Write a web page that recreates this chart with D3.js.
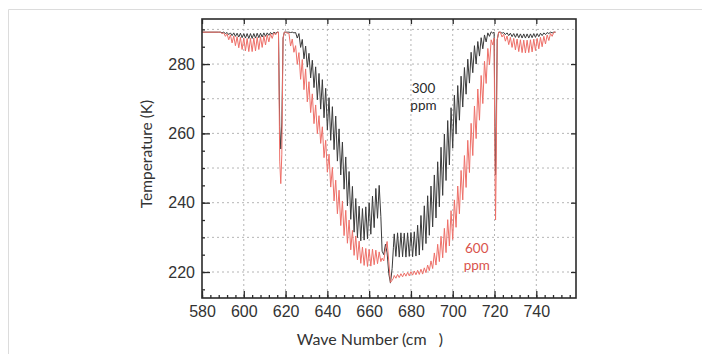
<!DOCTYPE html>
<html>
<head>
<meta charset="utf-8">
<script src="https://cdn.jsdelivr.net/npm/d3@7"></script>
<style>
  html, body { margin: 0; padding: 0; background: #fff; }
  svg { display: block; font-family: Lato, "Open Sans", sans-serif; }
</style>
</head>
<body>
<svg id="chart" width="702" height="354"></svg>
<script>
// wave number (cm-1) of every vertex, shared by both spectra
const waveNumber = [
  580.0, 588.0,
  588.8, 589.6, 590.4, 591.2, 592.0, 592.8, 593.6, 594.4, 595.2, 596.0, 596.8, 597.6,
  598.4, 599.2, 600.0, 600.8, 601.6, 602.4, 603.2, 604.0, 604.8, 605.6, 606.4, 607.2,
  608.0, 608.8, 609.6, 610.4, 611.2, 612.0, 612.8, 613.6, 614.4, 615.2, 616.0,
  616.6, 617.2, 617.7, 618.2, 618.8, 619.4,
  620.0, 620.8, 621.6, 622.4, 623.2, 624.0, 624.8, 625.6, 626.4, 627.2, 628.0, 628.8,
  629.6, 630.4, 631.2, 632.0, 632.8, 633.6, 634.4, 635.2, 636.0, 636.8, 637.6, 638.4,
  639.2, 640.0, 640.8, 641.6, 642.4, 643.2, 644.0, 644.8, 645.6, 646.4, 647.2, 648.0,
  648.8, 649.6, 650.4, 651.2, 652.0, 652.8, 653.6, 654.4, 655.2, 656.0, 656.8, 657.6,
  658.4, 659.2, 660.0, 660.8, 661.6, 662.4, 663.2, 664.0, 664.8, 665.6,
  666.2, 667.0, 667.8, 668.6, 669.4, 670.2, 671.0, 671.6,
  672.0, 672.8, 673.6, 674.4, 675.2, 676.0, 676.8, 677.6, 678.4, 679.2, 680.0, 680.8,
  681.6, 682.4, 683.2, 684.0, 684.8, 685.6, 686.4, 687.2, 688.0, 688.8, 689.6, 690.4,
  691.2, 692.0, 692.8, 693.6, 694.4, 695.2, 696.0, 696.8, 697.6, 698.4, 699.2, 700.0,
  700.8, 701.6, 702.4, 703.2, 704.0, 704.8, 705.6, 706.4, 707.2, 708.0, 708.8, 709.6,
  710.4, 711.2, 712.0, 712.8, 713.6, 714.4, 715.2, 716.0, 716.8, 717.6, 718.4, 719.2,
  719.8, 720.2, 720.5, 720.8, 721.3, 722.0,
  722.8, 723.6, 724.4, 725.2, 726.0, 726.8, 727.6, 728.4, 729.2, 730.0, 730.8, 731.6,
  732.4, 733.2, 734.0, 734.8, 735.6, 736.4, 737.2, 738.0, 738.8, 739.6, 740.4, 741.2,
  742.0, 742.8, 743.6, 744.4, 745.2, 746.0, 746.8, 747.6, 748.4, 749.2
];

// brightness temperature (K), 300 ppm CO2
const temp300 = [
  289.2, 289.2,
  289.2, 289.0, 289.2, 288.8, 289.1, 288.5, 289.0, 288.2, 289.0, 288.0, 288.9, 287.8,
  288.9, 287.6, 288.8, 287.5, 288.8, 287.4, 288.8, 287.4, 288.8, 287.5, 288.9, 287.6,
  288.9, 287.8, 289.0, 288.0, 289.0, 288.3, 289.1, 288.6, 289.2, 288.9, 289.2,
  289.2, 262.0, 255.5, 263.0, 287.5, 289.2,
  289.2, 289.2, 289.2, 289.1, 289.2, 289.0, 289.1, 287.5, 288.8, 284.8, 287.1, 281.5,
  285.2, 279.1, 283.1, 276.0, 281.1, 273.2, 279.2, 269.7, 277.3, 267.0, 275.5, 264.5,
  273.0, 261.0, 270.3, 258.0, 267.7, 255.3, 265.0, 252.0, 261.3, 248.0, 257.5, 243.9,
  253.2, 239.1, 249.0, 235.2, 244.7, 231.5, 241.2, 229.9, 239.0, 229.0, 238.3, 229.2,
  238.8, 229.6, 240.0, 230.9, 241.9, 232.8, 244.1, 235.5, 245.0, 236.0,
  226.0, 225.0, 228.0, 225.5, 219.5, 216.8, 221.0, 227.0,
  231.0, 224.5, 231.3, 224.3, 231.3, 224.4, 231.2, 224.3, 231.3, 224.5, 231.4, 224.4,
  231.6, 224.6, 233.5, 224.9, 236.3, 226.3, 239.1, 228.2, 242.0, 230.6, 244.8, 233.0,
  248.0, 235.6, 251.8, 238.8, 256.0, 242.1, 259.8, 246.4, 263.7, 250.9, 267.4, 255.7,
  271.0, 259.8, 273.8, 263.8, 276.5, 267.6, 279.0, 271.3, 281.4, 274.5, 283.4, 277.5,
  285.3, 280.0, 286.5, 282.3, 287.6, 284.4, 288.4, 286.4, 289.0, 288.0, 289.3, 288.9,
  289.2, 262.0, 248.0, 260.0, 287.0, 289.2,
  289.2, 288.9, 289.1, 288.5, 289.0, 288.2, 288.9, 287.9, 288.8, 287.7, 288.8, 287.6,
  288.7, 287.5, 288.7, 287.5, 288.7, 287.5, 288.7, 287.6, 288.8, 287.7, 288.8, 287.9,
  288.9, 288.2, 289.0, 288.5, 289.1, 288.8, 289.2, 289.0, 289.2, 289.2
];

// brightness temperature (K), 600 ppm CO2
const temp600 = [
  289.2, 289.2,
  289.2, 288.8, 289.0, 288.0, 288.7, 287.0, 288.4, 286.1, 288.1, 285.3, 287.9, 284.7,
  287.7, 284.2, 287.5, 283.8, 287.4, 283.6, 287.4, 283.6, 287.5, 283.8, 287.7, 284.2,
  287.9, 284.8, 288.1, 285.5, 288.4, 286.4, 288.7, 287.4, 289.0, 288.4, 289.2,
  289.2, 252.0, 245.5, 254.0, 287.5, 289.2,
  289.2, 288.9, 288.9, 285.2, 287.2, 283.4, 285.3, 279.9, 283.3, 275.6, 281.3, 272.6,
  278.6, 269.1, 274.9, 266.0, 271.4, 262.8, 268.2, 259.9, 265.1, 257.1, 261.9, 253.0,
  258.0, 248.8, 254.0, 244.5, 250.2, 240.5, 246.5, 236.8, 243.6, 233.4, 240.5, 230.5,
  237.8, 228.3, 235.0, 226.4, 232.0, 224.8, 230.4, 223.5, 228.9, 222.5, 227.2, 221.9,
  226.8, 221.6, 226.5, 221.7, 226.6, 222.1, 226.3, 222.4, 225.8, 223.0,
  224.0, 223.2, 226.5, 228.8, 223.0, 217.0, 217.6, 218.2,
  219.0, 218.2, 219.3, 218.4, 219.5, 218.6, 219.7, 218.8, 219.9, 218.9, 220.1, 219.1,
  220.3, 219.2, 220.5, 219.3, 220.8, 219.4, 221.2, 219.8, 222.0, 220.4, 223.2, 221.0,
  225.5, 222.0, 228.0, 223.0, 230.3, 224.1, 232.6, 225.6, 235.1, 227.5, 237.7, 229.4,
  240.8, 232.9, 244.8, 236.8, 249.3, 240.8, 253.6, 244.4, 258.0, 248.7, 262.9, 253.6,
  267.9, 258.5, 272.8, 263.8, 276.7, 268.6, 280.8, 274.4, 284.5, 279.8, 287.0, 285.5,
  287.5, 252.0, 235.0, 250.0, 287.0, 289.2,
  289.2, 287.8, 288.6, 286.6, 288.1, 285.6, 287.7, 284.8, 287.4, 284.1, 287.2, 283.6,
  287.0, 283.3, 286.9, 283.2, 286.9, 283.3, 287.0, 283.5, 287.2, 283.9, 287.4, 284.4,
  287.7, 285.0, 288.0, 285.8, 288.4, 286.8, 288.8, 288.0, 289.2, 289.2
];

const xTicks = [580, 600, 620, 640, 660, 680, 700, 720, 740];
const yTicks = [220, 240, 260, 280];
const xGrid = [600, 620, 640, 660, 680, 700, 720, 740];
const yGrid = [220, 230, 240, 250, 260, 270, 280, 290];

const svg = d3.select("#chart");

// outer card border
svg.append("path")
  .attr("d", "M8.5,360 V9.5 H710")
  .attr("fill", "none")
  .attr("stroke", "#dcdcdc")
  .attr("stroke-width", 1);

const margin = { left: 202, right: 126, top: 19, bottom: 56 };
const width = 702 - margin.left - margin.right;
const height = 354 - margin.top - margin.bottom;

const x = d3.scaleLinear().domain([580, 759]).range([0, width]);
const y = d3.scaleLinear().domain([212.5, 293]).range([height, 0]);

const g = svg.append("g").attr("transform", `translate(${margin.left},${margin.top})`);

// dotted grid
g.append("g").selectAll("line").data(xGrid).join("line")
  .attr("x1", d => x(d)).attr("x2", d => x(d))
  .attr("y1", 0).attr("y2", height)
  .attr("stroke", "#b5b5b5").attr("stroke-dasharray", "2,3");
g.append("g").selectAll("line").data(yGrid).join("line")
  .attr("y1", d => y(d)).attr("y2", d => y(d))
  .attr("x1", 0).attr("x2", width)
  .attr("stroke", "#b5b5b5").attr("stroke-dasharray", "2,3");

// spectra
const pts300 = waveNumber.map((w, i) => [w, temp300[i]]);
const pts600 = waveNumber.map((w, i) => [w, temp600[i]]);
const line = d3.line().x(d => x(d[0])).y(d => y(d[1]));

g.append("path").datum(pts300)
  .attr("d", line)
  .attr("fill", "none")
  .attr("stroke", "#3a3a3a")
  .attr("stroke-width", 1);

g.append("path").datum(pts600)
  .attr("d", line)
  .attr("fill", "none")
  .attr("stroke", "#ee6f68")
  .attr("stroke-width", 1);

// axes: ticks pointing inward
const axisColor = "#2b2b2b";
function styleAxis(sel) {
  sel.select(".domain").remove();
  sel.selectAll("line").attr("stroke", axisColor).attr("stroke-width", 1.3);
  sel.selectAll("text").attr("fill", "#333").attr("font-size", "16px");
}

const xMinor = d3.range(580, 760, 4);
const yMinor = d3.range(215, 293, 5);

g.append("g").attr("transform", `translate(0,${height})`)
  .call(d3.axisBottom(x).tickValues(xMinor).tickSize(-3).tickFormat(""))
  .call(styleAxis);
g.append("g").attr("transform", `translate(0,${height})`)
  .call(d3.axisBottom(x).tickValues(xTicks).tickSizeInner(-7).tickSizeOuter(0).tickPadding(8).tickFormat(d3.format("d")))
  .call(styleAxis);
g.append("g")
  .call(d3.axisTop(x).tickValues(xTicks).tickSizeInner(-5).tickSizeOuter(0).tickFormat(""))
  .call(styleAxis);

g.append("g")
  .call(d3.axisLeft(y).tickValues(yMinor).tickSize(-3).tickFormat(""))
  .call(styleAxis);
g.append("g")
  .call(d3.axisLeft(y).tickValues(yTicks).tickSizeInner(-8).tickSizeOuter(0).tickPadding(7).tickFormat(d3.format("d")))
  .call(styleAxis);
g.append("g").attr("transform", `translate(${width},0)`)
  .call(d3.axisRight(y).tickValues(yTicks).tickSizeInner(-5).tickSizeOuter(0).tickFormat(""))
  .call(styleAxis);

// frame
g.append("rect")
  .attr("width", width).attr("height", height)
  .attr("fill", "none").attr("stroke", axisColor).attr("stroke-width", 1.6);

// axis titles (superscript is blank in the source, keep the gap)
svg.append("text")
  .attr("x", 370).attr("y", 345)
  .attr("text-anchor", "middle")
  .attr("font-size", "16px").attr("fill", "#333")
  .text("Wave Number (cm\u00a0\u00a0\u00a0)");

svg.append("text")
  .attr("transform", "translate(152,154) rotate(-90)")
  .attr("text-anchor", "middle")
  .attr("font-size", "15.5px").attr("fill", "#333")
  .text("Temperature (K)");

// series labels
const notes = [
  { lines: ["300", "ppm"], wn: 686, t: 271.6, color: "#2a2a2a" },
  { lines: ["600", "ppm"], wn: 711.5, t: 225.6, color: "#d9534c" }
];
notes.forEach(n => {
  const t = g.append("text")
    .attr("x", x(n.wn)).attr("y", y(n.t))
    .attr("text-anchor", "middle")
    .attr("font-size", "13.5px").attr("fill", n.color);
  n.lines.forEach((s, i) => t.append("tspan")
    .attr("x", x(n.wn)).attr("dy", i ? 17 : 0).text(s));
});
</script>
</body>
</html>
